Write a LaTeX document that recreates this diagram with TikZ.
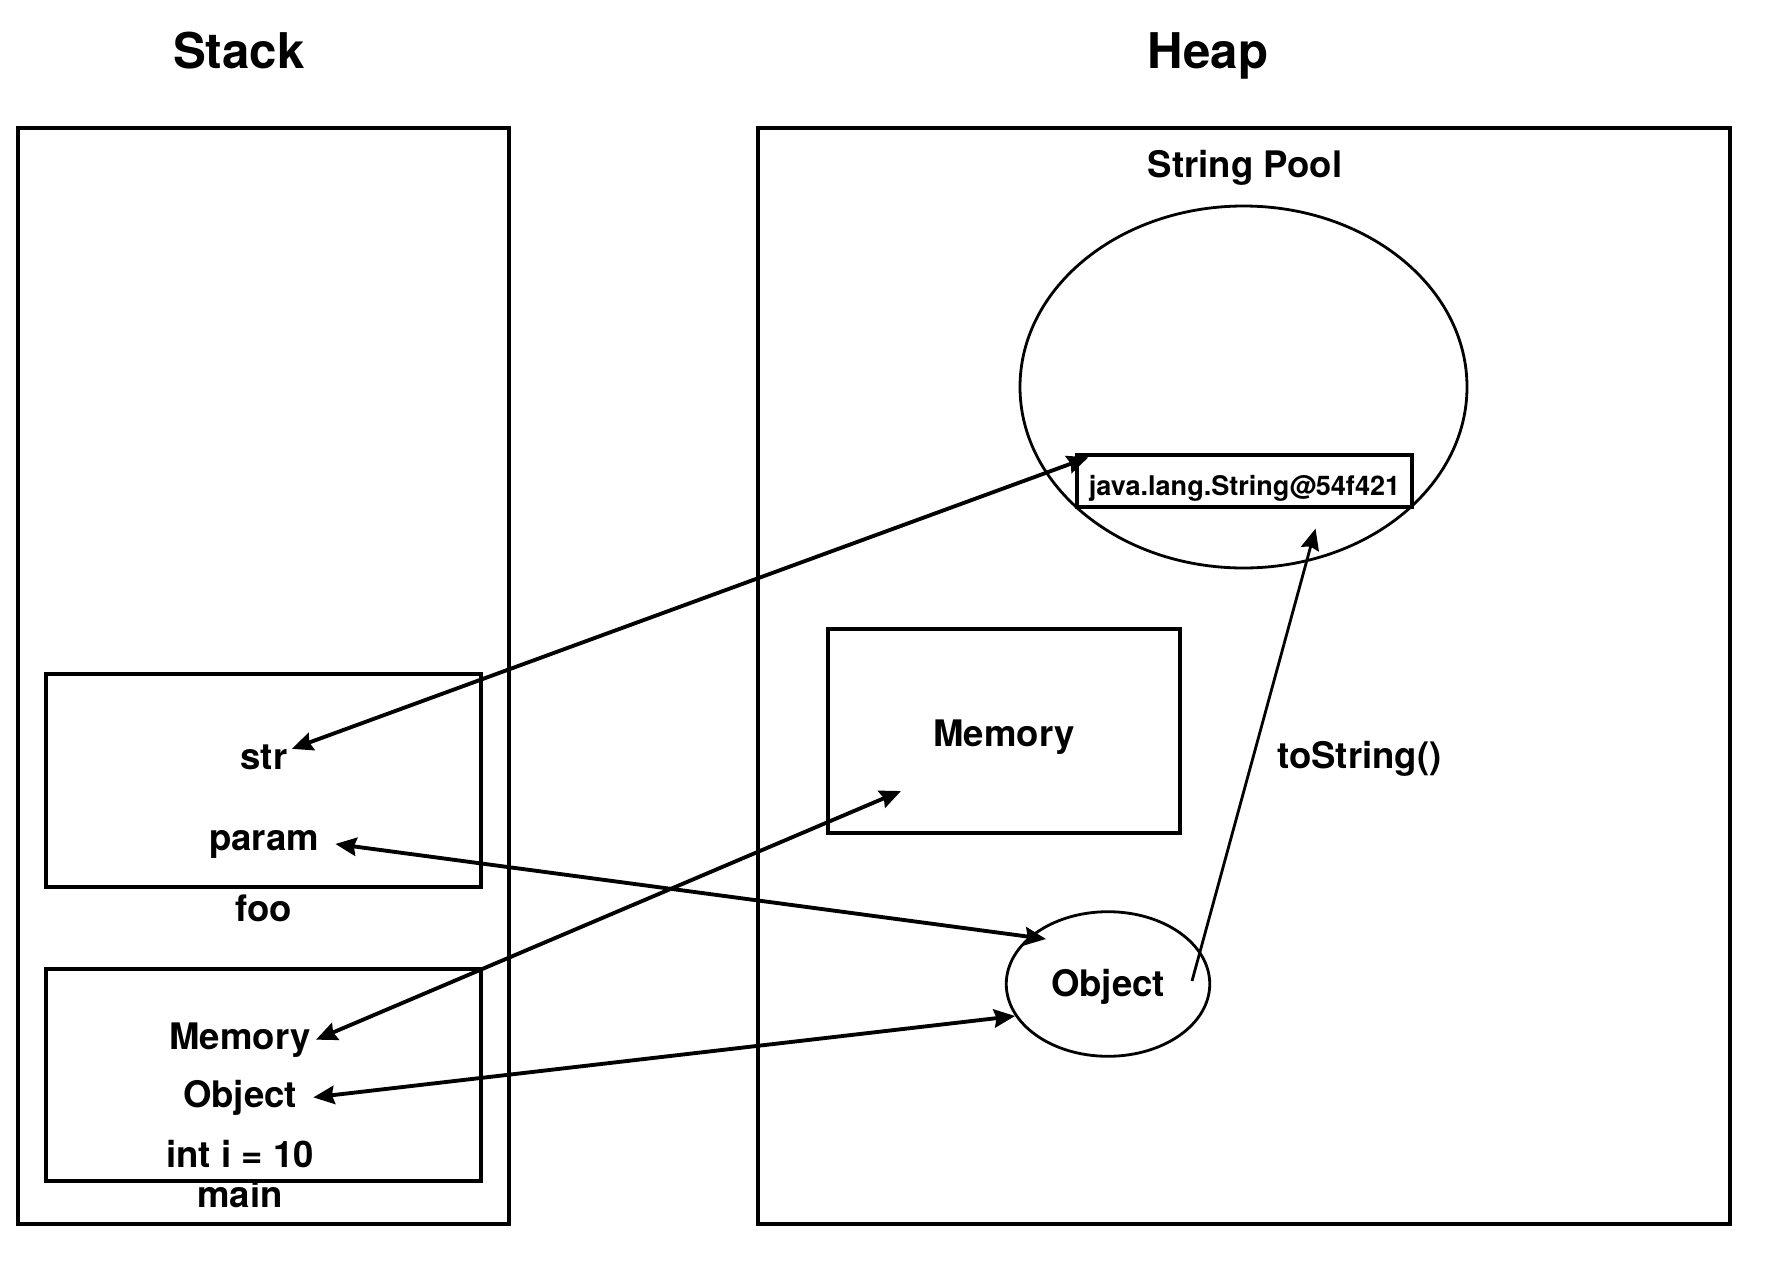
\documentclass[tikz,border=0pt]{standalone}
\usepackage{fontspec}
\setmainfont{TeX Gyre Heros}
\usetikzlibrary{arrows.meta,shapes.geometric}

\begin{document}
\begin{tikzpicture}[black, line width=1.1pt, >={Stealth[length=6pt,width=5.2pt,inset=0.7pt]},
  lbl/.style={font=\fontsize{10.4}{12}\selectfont\bfseries, inner sep=1pt, anchor=base},
  heading/.style={font=\fontsize{14}{16}\selectfont\bfseries, inner sep=1pt, anchor=base},
  blob/.style={draw, ellipse, line width=0.8pt, inner sep=0pt},
  ref/.style={line width=1.1pt, <->}]
\useasboundingbox (0,0) rectangle (17.84,-12.76);

% Titles
\node[heading] (stacktitle) at (2.39,-0.69) {Stack};
\node[heading] (heaptitle) at (12.08,-0.69) {Heap};

% Stack + frames
\draw (0.18,-1.28) rectangle (5.09,-12.24);
\draw (0.46,-6.74) rectangle (4.81,-8.87);
\draw (0.46,-9.69) rectangle (4.81,-11.81);

\node[lbl] (str) at (2.64,-7.69) {str};
\node[lbl] (param) at (2.64,-8.50) {param};
\node[lbl] (foo) at (2.64,-9.21) {foo};
\node[lbl] (memst) at (2.40,-10.49) {Memory};
\node[lbl] (objst) at (2.40,-11.07) {Object};
\node[lbl] (inti) at (2.40,-11.67) {int i = 10};
\node[lbl] (main) at (2.40,-12.07) {main};

% Heap
\draw (7.58,-1.28) rectangle (17.30,-12.24);
\node[lbl] (pooltitle) at (12.45,-1.77) {String Pool};
\node[blob, minimum width=4.47cm, minimum height=3.62cm] (pool) at (12.435,-3.87) {};
\node[draw, fill=white, line width=0.95pt, inner sep=0pt, minimum width=3.35cm, minimum height=0.52cm,
  text height=0.34cm, text depth=0.06cm,
  font=\fontsize{7.7}{9}\selectfont\bfseries] (jstr) at (12.445,-4.81) {java.lang.String@54f421};

\node[draw, minimum width=3.525cm, minimum height=2.036cm, text height=0.38cm, text depth=0.08cm,
  font=\fontsize{10.4}{12}\selectfont\bfseries] (membox) at (10.04,-7.31) {Memory};
\node[blob, minimum width=2.035cm, minimum height=1.446cm, text height=0.33cm, text depth=0.08cm,
  font=\fontsize{10.4}{12}\selectfont\bfseries] (objheap) at (11.08,-9.84) {Object};

% References
\draw[ref] ([shift={(-0.01,0.08)}]str.east) -- ([shift={(0.13,-0.04)}]jstr.north west);
\draw[ref] ([xshift=0.11cm]param.east) -- ([shift={(-0.62,0.45)}]objheap.center);
\draw[ref] (memst.east) -- ([shift={(-1.03,-0.6)}]membox.center);
\draw[ref] ([xshift=0.11cm]objst.east) -- (objheap.199);
\draw[line width=0.8pt, ->] ([shift={(0.84,0.03)}]objheap.center) -- ([shift={(0.71,-0.2)}]jstr.south)
  node[lbl, pos=0.49, right=0.2cm] (tostr) {toString()};

\end{tikzpicture}
\end{document}
